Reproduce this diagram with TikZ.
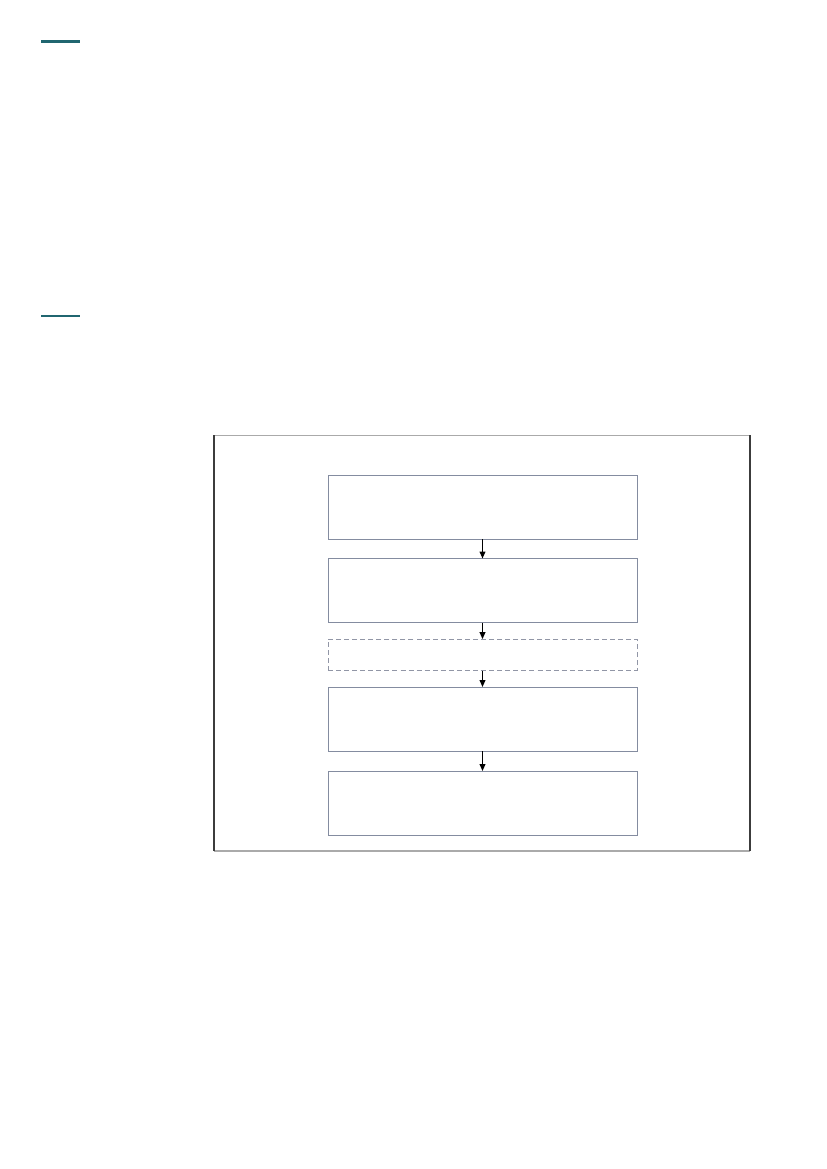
\documentclass[tikz,border=0pt]{standalone}
\usetikzlibrary{arrows.meta}
\definecolor{tealbar}{RGB}{32,102,112}
\definecolor{boxline}{RGB}{132,140,160}
\definecolor{dashline}{RGB}{145,150,166}
\definecolor{framegray}{RGB}{170,170,170}
\definecolor{framedark}{RGB}{60,60,60}
\tikzset{
  stepbox/.style={draw=boxline, line width=0.65pt, rectangle, inner sep=0pt, outer sep=0pt,
    minimum width=222.4pt, minimum height=46.1pt},
  optbox/.style={draw=dashline, line width=0.65pt, dashed, dash pattern=on 3.6pt off 2.2pt,
    rectangle, inner sep=0pt, outer sep=0pt, minimum width=222.4pt, minimum height=22.7pt},
  flow/.style={-{Triangle[length=5pt,width=4.2pt]}, line width=0.8pt, black},
}
\begin{document}
\begin{tikzpicture}[x=0.7198pt, y=-0.7198pt]
\useasboundingbox (0,0) rectangle (827,1169);
\fill[white] (0,0) rectangle (827,1169);
% teal rules
\fill[tealbar] (41,39.5) rectangle (80,43);
\fill[tealbar] (41,315.2) rectangle (80,316.8);
% outer frame
\node[rectangle, inner sep=0pt, outer sep=0pt, minimum width=385.8pt, minimum height=299.4pt] (outer) at (482,643) {};
\draw[framegray, line width=0.75pt] (outer.north west) -- (outer.north east);
\draw[framegray, line width=0.75pt] (outer.south west) -- (outer.south east);
\draw[framedark, line width=0.75pt] (outer.north west) -- (outer.south west);
\draw[framedark, line width=0.75pt] (outer.north east) -- (outer.south east);
% boxes
\node[stepbox] (b1) at (482.5,507) {};
\node[stepbox] (b2) at (482.5,590.5) {};
\node[optbox]  (b3) at (482.5,654.8) {};
\node[stepbox] (b4) at (482.5,719) {};
\node[stepbox] (b5) at (482.5,803) {};
\draw[flow] (b1) -- (b2);
\draw[flow] (b2) -- (b3);
\draw[flow] (b3) -- (b4);
\draw[flow] (b4) -- (b5);
\end{tikzpicture}
\end{document}
